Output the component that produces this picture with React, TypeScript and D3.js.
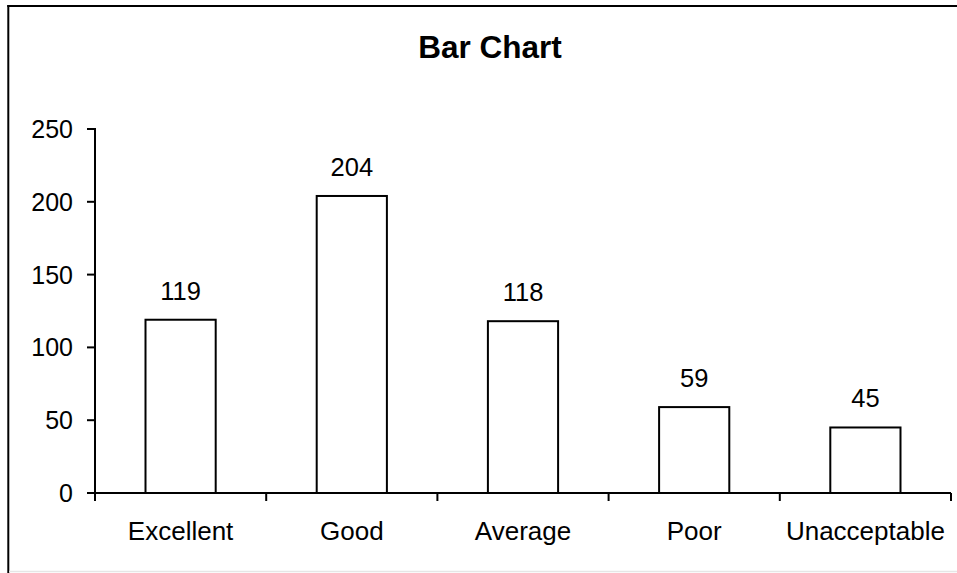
import React from "react";
import * as d3 from "d3";

const categories = ["Excellent", "Good", "Average", "Poor", "Unacceptable"];
const values = [119, 204, 118, 59, 45];
const yTicks = [0, 50, 100, 150, 200, 250];
const title = "Bar Chart";

export default function App() {
  const W = 957;
  const H = 573;
  const left = 95;
  const right = 951;
  const top = 129;
  const bottom = 493;
  const x = d3.scaleBand<string>().domain(categories).range([left, right]).paddingInner(0).paddingOuter(0);
  const y = d3.scaleLinear().domain([0, 250]).range([bottom, top]);
  const barW = x.bandwidth() * 0.41;
  const font = "'Liberation Sans', Arial, sans-serif";
  const tickEdges = categories.map((c) => x(c) as number).concat([right]);

  return (
    <svg width={W} height={H} style={{ position: "absolute", left: 0, top: 0, background: "#fff" }} fontFamily={font}>
      <rect x={0} y={0} width={W} height={H} fill="#fff" />
      {/* frame */}
      <line x1={8.3} y1={5} x2={8.3} y2={H} stroke="#000" strokeWidth={2} />
      <line x1={7.3} y1={6} x2={W} y2={6} stroke="#000" strokeWidth={2} />
      <line x1={9} y1={571.5} x2={W} y2={571.5} stroke="#e6e6e6" strokeWidth={1.5} />
      <text x={490} y={57.5} textAnchor="middle" fontSize={31.5} fontWeight="bold" fill="#000">
        {title}
      </text>
      {/* bars */}
      {categories.map((c, i) => {
        const cx = (x(c) as number) + x.bandwidth() / 2;
        return (
          <g key={c}>
            <rect
              x={cx - barW / 2}
              y={y(values[i])}
              width={barW}
              height={bottom - y(values[i])}
              fill="#fff"
              stroke="#000"
              strokeWidth={2}
            />
            <text x={cx} y={y(values[i]) - 20} textAnchor="middle" fontSize={25.5} fill="#000">
              {values[i]}
            </text>
            <text x={cx} y={540} textAnchor="middle" fontSize={26} fill="#000">
              {c}
            </text>
          </g>
        );
      })}
      {/* y axis */}
      <line x1={left} y1={top - 1} x2={left} y2={bottom} stroke="#000" strokeWidth={2} />
      {yTicks.map((t) => (
        <g key={t}>
          <line x1={left - 8} y1={y(t)} x2={left} y2={y(t)} stroke="#000" strokeWidth={2} />
          <text x={73} y={y(t) + 9} textAnchor="end" fontSize={25} fill="#000">
            {t}
          </text>
        </g>
      ))}
      {/* x axis */}
      <line x1={left - 8} y1={bottom} x2={right} y2={bottom} stroke="#000" strokeWidth={2} />
      {tickEdges.map((e, i) => (
        <line key={i} x1={e} y1={bottom} x2={e} y2={bottom + 8} stroke="#000" strokeWidth={2} />
      ))}
    </svg>
  );
}
